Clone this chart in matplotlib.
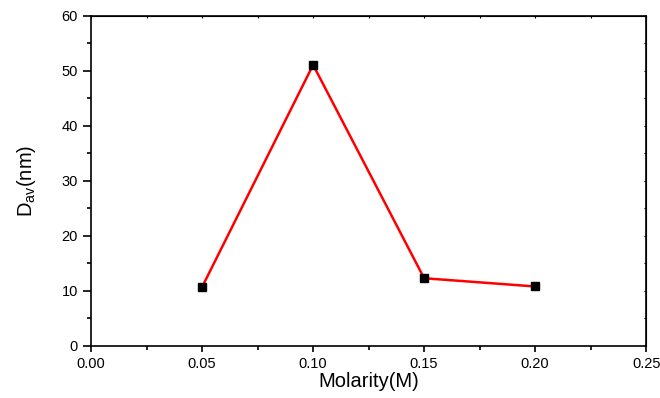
import matplotlib
matplotlib.use("Agg")
import matplotlib.pyplot as plt
from matplotlib.ticker import MultipleLocator, FormatStrFormatter

plt.rcParams['font.family'] = ['Liberation Sans', 'DejaVu Sans']
plt.rcParams['mathtext.fontset'] = 'custom'
plt.rcParams['mathtext.rm'] = 'Liberation Sans'
plt.rcParams['mathtext.it'] = 'Liberation Sans:italic'

molarity = [0.05, 0.10, 0.15, 0.20]
d_av = [10.7, 51.1, 12.3, 10.8]

fig = plt.figure(figsize=(6.6, 3.98), dpi=100)
ax = fig.add_axes([0.138, 0.131, 0.841, 0.829])

ax.plot(molarity, d_av, color='red', lw=1.8, zorder=2)
ax.plot(molarity, d_av, ls='none', marker='s', ms=6, color='black', zorder=3)

ax.set_xlim(0, 0.25)
ax.set_ylim(0, 60)
ax.xaxis.set_major_locator(MultipleLocator(0.05))
ax.xaxis.set_minor_locator(MultipleLocator(0.025))
ax.yaxis.set_major_locator(MultipleLocator(10))
ax.yaxis.set_minor_locator(MultipleLocator(5))
ax.xaxis.set_major_formatter(FormatStrFormatter('%.2f'))

ax.tick_params(which='both', direction='out', width=1.2, labelsize=10.5, top=False, right=False)
ax.tick_params(axis='y', which='major', length=5.5, pad=4)
ax.tick_params(axis='x', which='major', length=4, pad=4)
ax.tick_params(which='minor', length=3)
for s in ax.spines.values():
    s.set_linewidth(1.2)

# tiny inward ticks on the top and right spines
sec_x = ax.secondary_xaxis('top')
sec_x.xaxis.set_major_locator(MultipleLocator(0.05))
sec_x.xaxis.set_minor_locator(MultipleLocator(0.025))
sec_x.tick_params(which='both', direction='in', length=1.5, width=0.8, labeltop=False)
sec_y = ax.secondary_yaxis('right')
sec_y.yaxis.set_major_locator(MultipleLocator(10))
sec_y.yaxis.set_minor_locator(MultipleLocator(5))
sec_y.tick_params(which='both', direction='in', length=1.5, width=0.8, labelright=False)

ax.set_xlabel('Molarity(M)', fontsize=14.5, labelpad=1)
ax.set_ylabel(r'D$_{\mathrm{av}}$(nm)', fontsize=14.5, labelpad=17)

fig.savefig('out.png', dpi=100)
